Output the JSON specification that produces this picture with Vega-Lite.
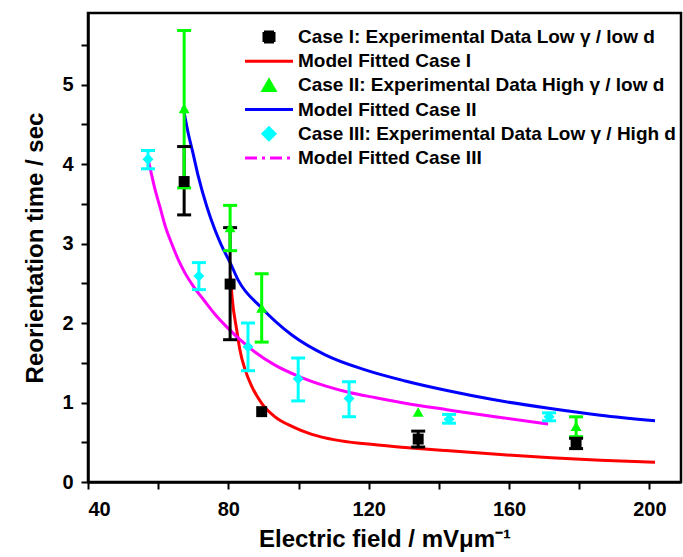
{
  "$schema": "https://vega.github.io/schema/vega-lite/v6.json",
  "width": 593,
  "height": 469,
  "autosize": {"type": "none"},
  "padding": {"left": 88, "top": 13, "right": 2, "bottom": 75},
  "background": "white",
  "config": {
    "view": {"stroke": "black", "strokeWidth": 2.5},
    "font": "Liberation Sans",
    "axis": {
      "grid": false,
      "domainColor": "black",
      "domainWidth": 2.5,
      "tickColor": "black",
      "tickWidth": 2,
      "tickSize": 7,
      "labelFont": "Liberation Sans",
      "labelFontSize": 20,
      "labelFontWeight": "bold",
      "labelColor": "black",
      "titleFont": "Liberation Sans",
      "titleFontSize": 24,
      "titleFontWeight": "bold",
      "titleColor": "black"
    }
  },
  "datasets": {
    "curves": [
      {"series": "Model Fitted Case I", "E": 80.6, "t": 2.6},
      {"series": "Model Fitted Case I", "E": 81.1, "t": 2.31},
      {"series": "Model Fitted Case I", "E": 82.4, "t": 1.91},
      {"series": "Model Fitted Case I", "E": 83.3, "t": 1.66},
      {"series": "Model Fitted Case I", "E": 84.8, "t": 1.41},
      {"series": "Model Fitted Case I", "E": 86.7, "t": 1.2},
      {"series": "Model Fitted Case I", "E": 89.5, "t": 0.99},
      {"series": "Model Fitted Case I", "E": 93.3, "t": 0.82},
      {"series": "Model Fitted Case I", "E": 98.1, "t": 0.7},
      {"series": "Model Fitted Case I", "E": 103.8, "t": 0.6},
      {"series": "Model Fitted Case I", "E": 110.4, "t": 0.53},
      {"series": "Model Fitted Case I", "E": 119, "t": 0.48},
      {"series": "Model Fitted Case I", "E": 130.4, "t": 0.435},
      {"series": "Model Fitted Case I", "E": 142, "t": 0.395},
      {"series": "Model Fitted Case I", "E": 157.5, "t": 0.345},
      {"series": "Model Fitted Case I", "E": 172, "t": 0.305},
      {"series": "Model Fitted Case I", "E": 186, "t": 0.275},
      {"series": "Model Fitted Case I", "E": 201.6, "t": 0.25},
      {"series": "Model Fitted Case II", "E": 67.1, "t": 4.72},
      {"series": "Model Fitted Case II", "E": 68.5, "t": 4.4},
      {"series": "Model Fitted Case II", "E": 69.9, "t": 4.14},
      {"series": "Model Fitted Case II", "E": 71.4, "t": 3.85},
      {"series": "Model Fitted Case II", "E": 73.9, "t": 3.46},
      {"series": "Model Fitted Case II", "E": 76.2, "t": 3.17},
      {"series": "Model Fitted Case II", "E": 78, "t": 2.98},
      {"series": "Model Fitted Case II", "E": 80.5, "t": 2.76},
      {"series": "Model Fitted Case II", "E": 82.8, "t": 2.54},
      {"series": "Model Fitted Case II", "E": 89.5, "t": 2.19},
      {"series": "Model Fitted Case II", "E": 98.1, "t": 1.85},
      {"series": "Model Fitted Case II", "E": 107.6, "t": 1.6},
      {"series": "Model Fitted Case II", "E": 119, "t": 1.41},
      {"series": "Model Fitted Case II", "E": 130.4, "t": 1.27},
      {"series": "Model Fitted Case II", "E": 142.3, "t": 1.15},
      {"series": "Model Fitted Case II", "E": 155, "t": 1.04},
      {"series": "Model Fitted Case II", "E": 170.8, "t": 0.93},
      {"series": "Model Fitted Case II", "E": 186, "t": 0.84},
      {"series": "Model Fitted Case II", "E": 201.6, "t": 0.77},
      {"series": "Model Fitted Case III", "E": 57.1, "t": 4.07},
      {"series": "Model Fitted Case III", "E": 58.2, "t": 3.85},
      {"series": "Model Fitted Case III", "E": 59.1, "t": 3.68},
      {"series": "Model Fitted Case III", "E": 60.5, "t": 3.46},
      {"series": "Model Fitted Case III", "E": 62, "t": 3.22},
      {"series": "Model Fitted Case III", "E": 64.2, "t": 2.96},
      {"series": "Model Fitted Case III", "E": 65.7, "t": 2.8},
      {"series": "Model Fitted Case III", "E": 67.5, "t": 2.64},
      {"series": "Model Fitted Case III", "E": 69.9, "t": 2.47},
      {"series": "Model Fitted Case III", "E": 73, "t": 2.29},
      {"series": "Model Fitted Case III", "E": 76, "t": 2.12},
      {"series": "Model Fitted Case III", "E": 79.1, "t": 1.97},
      {"series": "Model Fitted Case III", "E": 85.7, "t": 1.7},
      {"series": "Model Fitted Case III", "E": 93.3, "t": 1.47},
      {"series": "Model Fitted Case III", "E": 100, "t": 1.33},
      {"series": "Model Fitted Case III", "E": 107.6, "t": 1.21},
      {"series": "Model Fitted Case III", "E": 114.2, "t": 1.13},
      {"series": "Model Fitted Case III", "E": 122, "t": 1.06},
      {"series": "Model Fitted Case III", "E": 130.4, "t": 0.99},
      {"series": "Model Fitted Case III", "E": 142.3, "t": 0.91},
      {"series": "Model Fitted Case III", "E": 156, "t": 0.82},
      {"series": "Model Fitted Case III", "E": 171.1, "t": 0.73}
    ],
    "points": [
      {"series": "Case I: Experimental Data Low γ / low d", "E": 67.4, "t": 3.78, "lo": 3.36, "hi": 4.22},
      {"series": "Case I: Experimental Data Low γ / low d", "E": 80.5, "t": 2.49, "lo": 1.79, "hi": 3.2},
      {"series": "Case I: Experimental Data Low γ / low d", "E": 89.5, "t": 0.885, "lo": null, "hi": null},
      {"series": "Case I: Experimental Data Low γ / low d", "E": 134.1, "t": 0.54, "lo": 0.44, "hi": 0.64},
      {"series": "Case I: Experimental Data Low γ / low d", "E": 179.1, "t": 0.48, "lo": 0.42, "hi": 0.55},
      {"series": "Case II: Experimental Data High γ / low d", "E": 67.4, "t": 4.7, "lo": 3.7, "hi": 5.68},
      {"series": "Case II: Experimental Data High γ / low d", "E": 80.5, "t": 3.2, "lo": 2.91, "hi": 3.48},
      {"series": "Case II: Experimental Data High γ / low d", "E": 89.5, "t": 2.19, "lo": 1.76, "hi": 2.62},
      {"series": "Case II: Experimental Data High γ / low d", "E": 134.1, "t": 0.88, "lo": null, "hi": null},
      {"series": "Case II: Experimental Data High γ / low d", "E": 179.1, "t": 0.7, "lo": 0.57, "hi": 0.82},
      {"series": "Case III: Experimental Data Low γ / High d", "E": 57.1, "t": 4.06, "lo": 3.94, "hi": 4.17},
      {"series": "Case III: Experimental Data Low γ / High d", "E": 71.6, "t": 2.59, "lo": 2.42, "hi": 2.76},
      {"series": "Case III: Experimental Data Low γ / High d", "E": 85.6, "t": 1.7, "lo": 1.4, "hi": 2.0},
      {"series": "Case III: Experimental Data Low γ / High d", "E": 99.9, "t": 1.3, "lo": 1.02, "hi": 1.56},
      {"series": "Case III: Experimental Data Low γ / High d", "E": 114.4, "t": 1.05, "lo": 0.82, "hi": 1.26},
      {"series": "Case III: Experimental Data Low γ / High d", "E": 142.9, "t": 0.79, "lo": 0.74, "hi": 0.85},
      {"series": "Case III: Experimental Data Low γ / High d", "E": 171.4, "t": 0.82, "lo": 0.77, "hi": 0.87}
    ]
  },
  "layer": [
    {
      "data": {"name": "curves"},
      "mark": {"type": "line", "strokeWidth": 3, "interpolate": "monotone"},
      "encoding": {
        "x": {
          "field": "E", "type": "quantitative",
          "scale": {"domain": [40, 209], "nice": false, "zero": false},
          "axis": {
            "title": "Electric field / mVμm⁻¹",
            "values": [40, 60, 80, 100, 120, 140, 160, 180, 200],
            "labelExpr": "datum.value % 40 === 0 ? datum.label : ''",
            "labelPadding": 10,
            "titlePadding": 8
          }
        },
        "y": {
          "field": "t", "type": "quantitative",
          "scale": {"domain": [0, 5.9], "nice": false},
          "axis": {
            "title": "Reorientation time / sec",
            "values": [0, 0.5, 1, 1.5, 2, 2.5, 3, 3.5, 4, 4.5, 5, 5.5],
            "format": "~g",
            "labelExpr": "datum.value % 1 === 0 ? datum.label : ''",
            "labelPadding": 8,
            "titlePadding": 14
          }
        },
        "color": {
          "field": "series", "type": "nominal",
          "scale": {
            "domain": [
              "Case I: Experimental Data Low γ / low d",
              "Model Fitted Case I",
              "Case II: Experimental Data High γ / low d",
              "Model Fitted Case II",
              "Case III: Experimental Data Low γ / High d",
              "Model Fitted Case III"
            ],
            "range": ["#000000", "#ff0000", "#00ff00", "#0000ff", "#00ffff", "#ff00ff"]
          },
          "legend": {
            "title": null,
            "orient": "none",
            "legendX": 155.5,
            "legendY": 14,
            "padding": 0,
            "symbolType": "stroke",
            "symbolSize": 2304,
            "symbolStrokeWidth": 3,
            "labelFont": "Liberation Sans",
            "labelFontSize": 19,
            "labelFontWeight": "bold",
            "labelColor": "black",
            "labelOffset": 3.5,
            "labelLimit": 450,
            "clipHeight": 20,
            "rowPadding": 4.2,
            "encode": {
              "symbols": {
                "update": {
                  "shape": {"signal": "indexof('' + datum.value, 'Model') === 0 ? 'stroke' : indexof('' + datum.value, 'Case III') === 0 ? 'diamond' : indexof('' + datum.value, 'Case II') === 0 ? 'triangle-up' : 'square'"},
                  "size": {"signal": "(isString(datum.value) && indexof('' + datum.value, 'Case') === 0) ? (indexof('' + datum.value, 'Case I:') === 0 ? 100 : 140) : 2304"},
                  "fill": {"signal": "indexof('' + datum.value, 'Model') === 0 ? 'transparent' : scale('color', datum.value)"},
                  "stroke": {"signal": "indexof('' + datum.value, 'Model') === 0 ? scale('color', datum.value) : 'transparent'"},
                  "strokeWidth": {"value": 3},
                  "strokeDash": {"signal": "datum.value === 'Model Fitted Case III' ? [12, 5, 3, 5] : [1, 0]"},
                  "opacity": {"value": 1},
                  "fillOpacity": {"value": 1},
                  "strokeOpacity": {"value": 1}
                }
              }
            }
          }
        }
      }
    },
    {
      "data": {"name": "points"},
      "mark": {"type": "rule", "strokeWidth": 3},
      "encoding": {
        "x": {"field": "E", "type": "quantitative"},
        "y": {"field": "lo", "type": "quantitative"},
        "y2": {"field": "hi"},
        "color": {"field": "series", "type": "nominal"}
      }
    },
    {
      "data": {"name": "points"},
      "mark": {"type": "tick", "orient": "horizontal", "size": 14, "thickness": 3, "opacity": 1},
      "encoding": {
        "x": {"field": "E", "type": "quantitative"},
        "y": {"field": "lo", "type": "quantitative"},
        "color": {"field": "series", "type": "nominal"}
      }
    },
    {
      "data": {"name": "points"},
      "mark": {"type": "tick", "orient": "horizontal", "size": 14, "thickness": 3, "opacity": 1},
      "encoding": {
        "x": {"field": "E", "type": "quantitative"},
        "y": {"field": "hi", "type": "quantitative"},
        "color": {"field": "series", "type": "nominal"}
      }
    },
    {
      "data": {"name": "points"},
      "mark": {"type": "point", "filled": true, "opacity": 1, "size": 120},
      "encoding": {
        "x": {"field": "E", "type": "quantitative"},
        "y": {"field": "t", "type": "quantitative"},
        "color": {"field": "series", "type": "nominal"},
        "shape": {
          "field": "series", "type": "nominal",
          "scale": {
            "domain": [
              "Case I: Experimental Data Low γ / low d",
              "Case II: Experimental Data High γ / low d",
              "Case III: Experimental Data Low γ / High d"
            ],
            "range": ["square", "triangle-up", "diamond"]
          },
          "legend": null
        }
      }
    }
  ]
}
